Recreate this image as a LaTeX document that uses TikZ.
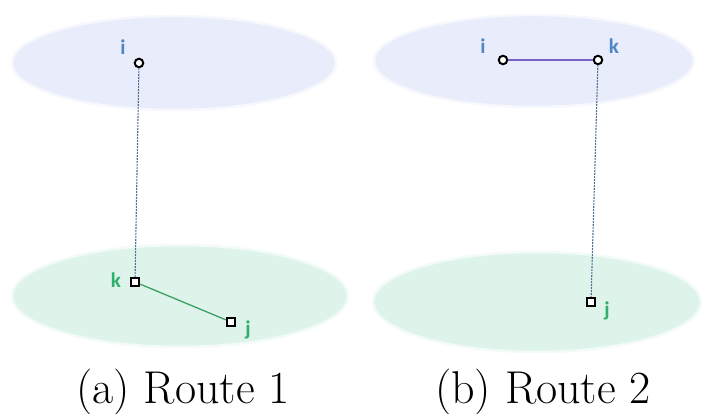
\documentclass[tikz,border=0pt]{standalone}
\usepackage{fontspec}
\newfontfamily\lblfont{Carlito}[BoldFont={* Bold}]
\definecolor{planeA}{HTML}{E9ECFA}
\definecolor{planeB}{HTML}{DEF4EB}
\definecolor{lblblue}{HTML}{4F86C6}
\definecolor{lblgreen}{HTML}{2FAE6C}
\definecolor{linkpurple}{HTML}{7B5FC4}
\definecolor{linkgreen}{HTML}{3A9E62}
\definecolor{vlink}{HTML}{54719A}
\begin{document}
\begin{tikzpicture}[x=1pt,y=-1pt,
  plane/.style={line width=2.5pt, draw=white!65!#1, fill=#1},
  cnode/.style={circle, draw=black, line width=2pt, fill=white, inner sep=0pt, minimum size=8.5pt},
  snode/.style={rectangle, draw=black, line width=1.9pt, fill=white, inner sep=0pt, minimum size=8.5pt},
  lbl/.style={font=\lblfont\bfseries\fontsize{21}{24}\selectfont, inner sep=0pt},
  vdash/.style={draw=vlink, line width=1.1pt, dash pattern=on 2pt off 1pt},
  caption/.style={font=\fontsize{46}{52}\selectfont, anchor=base, inner sep=0pt}]
\useasboundingbox (0,0) rectangle (702,414);

% (a) Route 1
\fill[plane=planeA] (174,63) ellipse [x radius=162, y radius=47];
\fill[plane=planeB] (180,296) ellipse [x radius=168, y radius=51];
\node[cnode] (ai) at (139,63) {};
\node[snode] (ak) at (135,282) {};
\node[snode] (aj) at (231,322) {};
\draw[vdash] (ai) -- (ak);
\draw[linkgreen, line width=1.3pt] (ak) -- (aj);
\node[lbl, text=lblblue] (ail) at (123,47) {i};
\node[lbl, text=lblgreen] (akl) at (116,280) {k};
\node[lbl, text=lblgreen] (ajl) at (248,330) {j};
\node[caption] (capa) at (183,403) {(a) Route 1};

% (b) Route 2
\fill[plane=planeA] (534,61) ellipse [x radius=160, y radius=46];
\fill[plane=planeB] (537,302) ellipse [x radius=164, y radius=50];
\node[cnode] (bi) at (503,60) {};
\node[cnode] (bk) at (598,60) {};
\node[snode] (bj) at (591,302) {};
\draw[linkpurple, line width=1.8pt] (bi) -- (bk);
\draw[vdash] (bk) -- (bj);
\node[lbl, text=lblblue] (bil) at (483,46) {i};
\node[lbl, text=lblblue] (bkl) at (614,46) {k};
\node[lbl, text=lblgreen] (bjl) at (607,311) {j};
\node[caption] (capb) at (543,403) {(b) Route 2};
\end{tikzpicture}
\end{document}
